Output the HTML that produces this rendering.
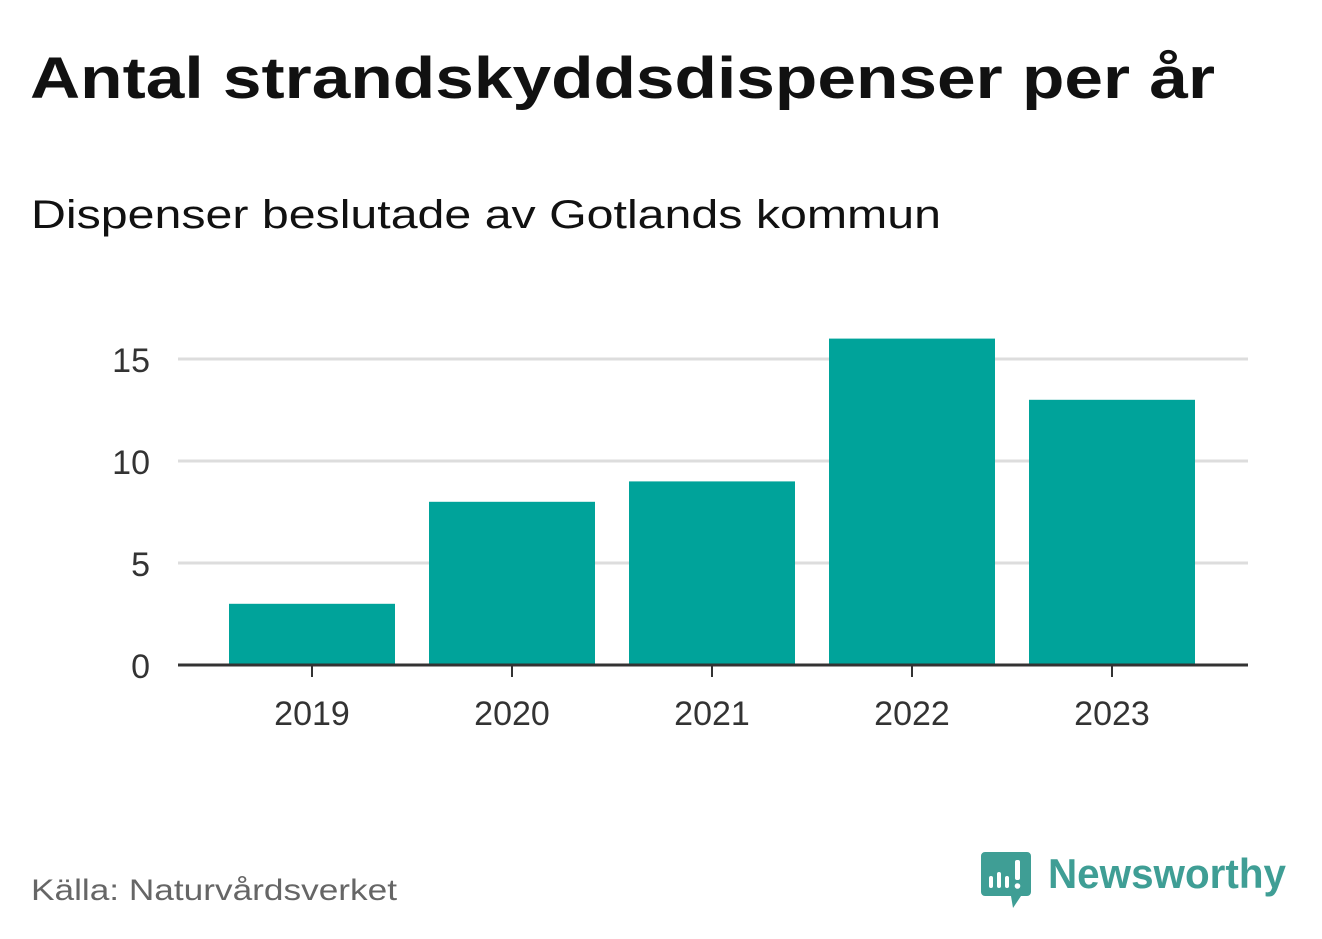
<!DOCTYPE html>
<html><head><meta charset="utf-8"><style>
html,body{margin:0;padding:0;background:#fff;width:1322px;height:939px;overflow:hidden}
svg{display:block;font-family:"Liberation Sans",sans-serif}
</style></head><body>
<svg id="chart" width="1322" height="939">
<text x="30" y="98" font-size="58" font-weight="bold" fill="#111" textLength="1185" lengthAdjust="spacingAndGlyphs">Antal strandskyddsdispenser per år</text>
<text x="31" y="228" font-size="40" fill="#111" textLength="910" lengthAdjust="spacingAndGlyphs">Dispenser beslutade av Gotlands kommun</text>
<g id="grid"></g><g id="bars"></g><g id="axes"></g>
<text x="31" y="900" font-size="30" fill="#666" textLength="366" lengthAdjust="spacingAndGlyphs">Källa: Naturvårdsverket</text>
<g>
<path d="M985 852 h42 a4 4 0 0 1 4 4 v36 a4 4 0 0 1 -4 4 h-6 l-8 12 l-2 -12 h-26 a4 4 0 0 1 -4 -4 v-36 a4 4 0 0 1 4 -4z" fill="#3f9e95"/>
<rect x="989" y="876" width="4" height="12" rx="2" fill="#fff"/>
<rect x="997" y="872" width="4" height="16" rx="2" fill="#fff"/>
<rect x="1005" y="876" width="4" height="12" rx="2" fill="#fff"/>
<rect x="1015" y="860" width="5" height="20" rx="2" fill="#fff"/>
<circle cx="1017.5" cy="886" r="2.8" fill="#fff"/>
<text x="1048" y="888" font-size="42" font-weight="bold" fill="#3f9e95" textLength="238" lengthAdjust="spacingAndGlyphs">Newsworthy</text>
</g>
</svg>
<script>
const categories=["2019","2020","2021","2022","2023"];
const values=[3,8,9,16,13];
const yTicks=[0,5,10,15];
const NS="http://www.w3.org/2000/svg";
const x0=178,x1=1248,y0=665,pxPerUnit=20.4;
const y=v=>y0-v*pxPerUnit;
const step=200,bandStart=212,barW=166;
const xc=i=>bandStart+step*i+step/2;
function mk(tag,attrs,parent){const e=document.createElementNS(NS,tag);for(const k in attrs)e.setAttribute(k,attrs[k]);document.getElementById(parent).appendChild(e);return e;}
yTicks.forEach(t=>{
  if(t>0){const l=mk('line',{x1:x0,x2:x1,y1:y(t),y2:y(t),stroke:'#ddd','stroke-width':3},'grid');
  
  }
  const tx=mk('text',{x:150,y:y(t)+13,'font-size':34,fill:'#333','text-anchor':'end'},'axes');
  tx.textContent=t;
  
  
});
categories.forEach((c,i)=>{
  const b=mk('rect',{x:xc(i)-barW/2,y:y(values[i]),width:barW,height:values[i]*pxPerUnit,fill:'#00a39a'},'bars');
  
  
  const tk=mk('line',{x1:xc(i),x2:xc(i),y1:y0,y2:y0+12,stroke:'#333','stroke-width':2},'axes');
  
  
  const tx=mk('text',{x:xc(i),y:725,'font-size':34,fill:'#333','text-anchor':'middle'},'axes');
  tx.textContent=c;
  
  
});
const ax=mk('line',{x1:x0,x2:x1,y1:y0,y2:y0,stroke:'#333','stroke-width':3},'axes');


</script>
</body></html>
